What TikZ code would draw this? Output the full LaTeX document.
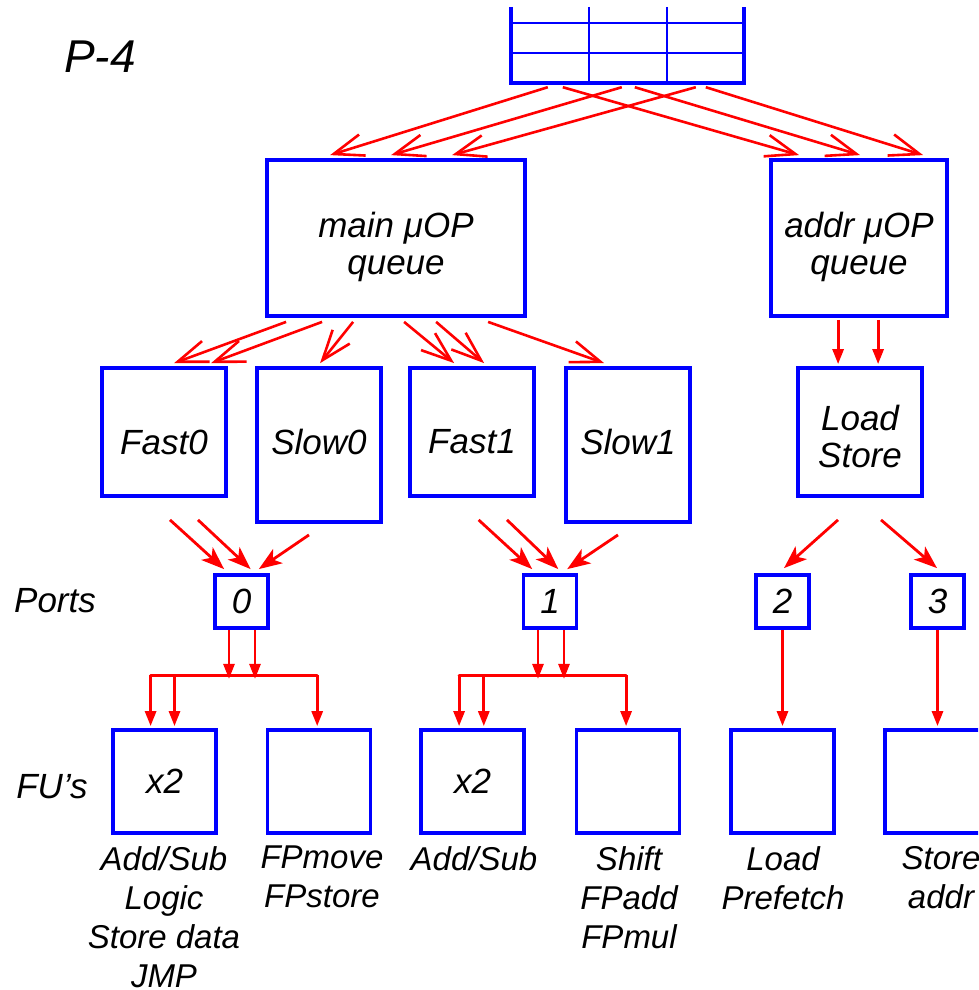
\documentclass[tikz,border=0pt]{standalone}
\usepackage{fontspec}
\setmainfont{Liberation Sans}
\usetikzlibrary{arrows.meta,calc}
\definecolor{boxblue}{RGB}{0,0,255}
\definecolor{wirered}{RGB}{255,0,0}
\tikzset{
  unit/.style={draw=boxblue, line width=3.8pt, inner sep=0pt,
    font=\fontsize{35}{37}\selectfont\itshape},
  caption/.style={inner sep=0pt, align=center,
    font=\fontsize{35}{37}\selectfont\itshape},
  note/.style={inner sep=0pt, align=center, anchor=north,
    font=\fontsize{33}{39}\selectfont\itshape},
  feed/.style={draw=wirered, line width=2.6pt,
    -{Straight Barb[length=30pt,width=22pt,line width=2.6pt]}},
  issue/.style={draw=wirered, line width=2.8pt,
    -{Stealth[length=23pt,width=17pt,inset=6pt]}},
  drop/.style={draw=wirered, line width=2.8pt,
    -{Triangle[length=15pt,width=11pt]}},
  wire/.style={draw=wirered, line width=2.8pt, line cap=round},
}
\begin{document}
\begin{tikzpicture}[x=1pt,y=-1pt]
\useasboundingbox (0,0) rectangle (978,990);
\clip (0,0) rectangle (978,990);

% ---- trace cache (open-topped table) ----
\node[minimum width=233pt, minimum height=76pt, inner sep=0pt] (tbl) at (627.5,45) {};
\draw[boxblue, line width=3.8pt] (tbl.north west) -- (tbl.south west)
  -- (tbl.south east) -- (tbl.north east);
\draw[boxblue, line width=2pt] ($(tbl.north west)+(78,0)$) -- ($(tbl.south west)+(78,0)$);
\draw[boxblue, line width=2pt] ($(tbl.north west)+(156,0)$) -- ($(tbl.south west)+(156,0)$);
\draw[boxblue, line width=2.4pt] ($(tbl.north west)+(0,16)$) -- ($(tbl.north east)+(0,16)$);
\draw[boxblue, line width=2.4pt] ($(tbl.north west)+(0,46)$) -- ($(tbl.north east)+(0,46)$);

% ---- queues ----
\node[unit, minimum width=258pt, minimum height=156pt] (mainq) at (396,238) {};
\node[caption] (mainqtext) at (396,247) {main μOP\\queue};
\node[unit, minimum width=176pt, minimum height=156pt] (addrq) at (859,238) {};
\node[caption] (addrqtext) at (859,247) {addr μOP\\queue};

% ---- schedulers ----
\node[unit, minimum width=124pt, minimum height=128pt] (fast0) at (164,432) {};
\node[unit, minimum width=124pt, minimum height=154pt] (slow0) at (319,445) {};
\node[unit, minimum width=124pt, minimum height=128pt] (fast1) at (472,432) {};
\node[unit, minimum width=124pt, minimum height=154pt] (slow1) at (628,445) {};
\node[unit, minimum width=124pt, minimum height=128pt] (ldst) at (860,432) {};
\node[caption] (fast0text) at (164,442) {Fast0};
\node[caption] (slow0text) at (319,442) {Slow0};
\node[caption] (fast1text) at (472,442) {Fast1};
\node[caption] (slow1text) at (628,442) {Slow1};
\node[caption] (ldsttext) at (860,436) {Load\\Store};

% ---- ports ----
\node[unit, minimum width=53pt, minimum height=53pt] (p0) at (241.5,601.5) {0};
\node[unit, minimum width=53pt, minimum height=53pt] (p1) at (550,601.5) {1};
\node[unit, minimum width=53pt, minimum height=53pt] (p2) at (782.5,601.5) {2};
\node[unit, minimum width=53pt, minimum height=53pt] (p3) at (937.5,601.5) {3};

% ---- functional units ----
\node[unit, minimum width=103pt, minimum height=103pt] (fu0) at (164.5,781.5) {x2};
\node[unit, minimum width=103pt, minimum height=103pt] (fu1) at (319,781.5) {};
\node[unit, minimum width=103pt, minimum height=103pt] (fu2) at (472.5,781.5) {x2};
\node[unit, minimum width=103pt, minimum height=103pt] (fu3) at (628,781.5) {};
\node[unit, minimum width=103pt, minimum height=103pt] (fu4) at (782.5,781.5) {};
\node[unit, minimum width=103pt, minimum height=103pt] (fu5) at (936.5,781.5) {};

% ---- side labels ----
\node[caption, font=\fontsize{46}{50}\selectfont\itshape] (title) at (100,57) {P-4};
\node[caption] (portslbl) at (55,601) {Ports};
\node[caption] (fuslbl) at (52,787) {FU’s};

% ---- unit descriptions ----
\node[note] (fu0note) at (164,846) {Add/Sub\\Logic\\Store data\\JMP};
\node[note] (fu1note) at (322,846) {FPmove\\FPstore};
\node[note] (fu2note) at (474,846) {Add/Sub};
\node[note] (fu3note) at (629,846) {Shift\\FPadd\\FPmul};
\node[note] (fu4note) at (783,846) {Load\\Prefetch};
\node[note] (fu5note) at (941,846) {Store\\addr};

% ---- trace cache to queues ----
\draw[feed] ($(tbl.south west)+(37,4)$)  -- ($(mainq.north west)+(65,-3)$);
\draw[feed] ($(tbl.south west)+(111,4)$) -- ($(mainq.north west)+(126,-3)$);
\draw[feed] ($(tbl.south west)+(185,4)$) -- ($(mainq.north west)+(187,-3)$);
\draw[feed] ($(tbl.south west)+(52,4)$)  -- ($(addrq.north west)+(30,-3)$);
\draw[feed] ($(tbl.south west)+(124,4)$) -- ($(addrq.north west)+(91,-3)$);
\draw[feed] ($(tbl.south west)+(195,4)$) -- ($(addrq.north west)+(154,-3)$);

% ---- queues to schedulers ----
\draw[feed] ($(mainq.south west)+(21,4)$)  -- ($(fast0.north west)+(74,-3)$);
\draw[feed] ($(mainq.south west)+(57,4)$)  -- ($(fast0.north west)+(111,-3)$);
\draw[feed] ($(mainq.south west)+(88,4)$)  -- ($(slow0.north west)+(65,-3)$);
\draw[feed] ($(mainq.south west)+(139,4)$) -- ($(fast1.north west)+(46,-3)$);
\draw[feed] ($(mainq.south west)+(171,4)$) -- ($(fast1.north west)+(76,-3)$);
\draw[feed] ($(mainq.south west)+(223,4)$) -- ($(slow1.north west)+(40,-3)$);
\draw[drop] ($(addrq.south west)+(69,2)$)  -- ($(ldst.north west)+(42,-2)$);
\draw[drop] ($(addrq.south west)+(109,2)$) -- ($(ldst.north west)+(82,-2)$);

% ---- schedulers to ports ----
\draw[issue] ($(fast0.south)+(6,22)$)   -- ($(p0.north west)+(11,-4)$);
\draw[issue] ($(fast0.south)+(34,22)$)  -- ($(p0.north west)+(37.5,-4)$);
\draw[issue] ($(slow0.south)+(-10,11)$) -- ($(p0.north west)+(45.7,-4)$);
\draw[issue] ($(fast1.south)+(6.6,22)$) -- ($(p1.north west)+(10.6,-4)$);
\draw[issue] ($(fast1.south)+(35,22)$)  -- ($(p1.north west)+(36.7,-4)$);
\draw[issue] ($(slow1.south)+(-10,11)$) -- ($(p1.north west)+(45.6,-4)$);
\draw[issue] ($(ldst.south)+(-22,22)$)  -- ($(p2.north)+(1.5,-5)$);
\draw[issue] ($(ldst.south)+(21,22)$)   -- ($(p3.north)+(-0.5,-5)$);

% ---- port 0 dispatch bus ----
\coordinate (bus0) at ($(p0.south)+(0,49)$);
\coordinate (bus0l) at ($(fu0.north west)+(39.5,-53)$);
\coordinate (bus0r) at ($(fu1.north west)+(51.6,-53)$);
\draw[drop] ($(p0.south)+(-12.5,0)$) -- ($(bus0)+(-12.5,0)$);
\draw[drop] ($(p0.south)+(13.5,0)$)  -- ($(bus0)+(13.5,0)$);
\draw[wire] (bus0l) -- (bus0r);
\draw[drop] (bus0l) -- ($(fu0.north west)+(39.5,-2)$);
\draw[drop] ($(fu0.north west)+(63.4,-53)$) -- ($(fu0.north west)+(63.4,-2)$);
\draw[drop] (bus0r) -- ($(fu1.north west)+(51.6,-2)$);

% ---- port 1 dispatch bus ----
\coordinate (bus1) at ($(p1.south)+(0,49)$);
\coordinate (bus1l) at ($(fu2.north west)+(40,-53)$);
\coordinate (bus1r) at ($(fu3.north west)+(51.5,-53)$);
\draw[drop] ($(p1.south)+(-12,0)$) -- ($(bus1)+(-12,0)$);
\draw[drop] ($(p1.south)+(14,0)$)  -- ($(bus1)+(14,0)$);
\draw[wire] (bus1l) -- (bus1r);
\draw[drop] (bus1l) -- ($(fu2.north west)+(40,-2)$);
\draw[drop] ($(fu2.north west)+(64.7,-53)$) -- ($(fu2.north west)+(64.7,-2)$);
\draw[drop] (bus1r) -- ($(fu3.north west)+(51.5,-2)$);

% ---- ports 2 and 3 ----
\draw[drop] (p2.south) -- ($(fu4.north)+(0,-2)$);
\draw[drop] (p3.south) -- ($(fu5.north)+(1,-2)$);
\end{tikzpicture}
\end{document}
